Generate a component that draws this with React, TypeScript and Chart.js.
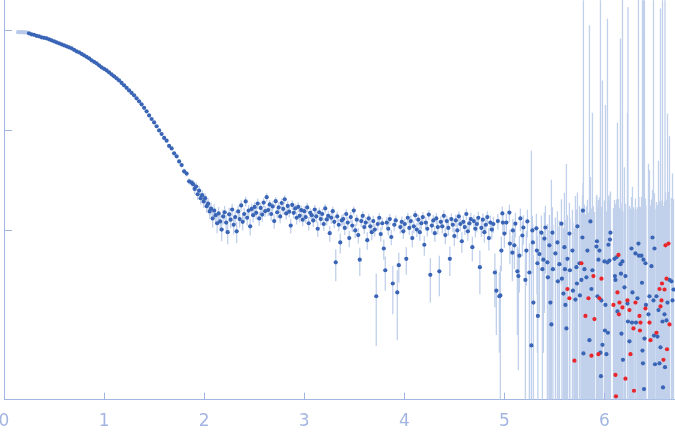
import { useEffect, useRef } from "react";
import { Chart, ChartConfiguration, registerables } from "chart.js";

Chart.register(...registerables);

const AXIS_COLOR = "#a3b6e2";
const POINT_COLOR = "#3a65b6";
const SKIP_COLOR = "#b9c9ea";
const NEG_COLOR = "#e8262c";
const ERR_COLOR = "rgba(186, 204, 233, 0.9)";

const Y_MIN = 0.204;
const Y_MAX = 2009;
const X_MAX = 6.705;
const X_TICKS = [0, 1, 2, 3, 4, 5, 6];
const Y_TICKS = [10, 100, 1000];

// first points, excluded from the fit (pale)
const skipQ = [0.14, 0.155, 0.17, 0.185, 0.2, 0.215, 0.23];
const skipI = [958, 962, 955, 960, 953, 957, 950];
const skipErr = [5, 5, 5, 5, 5, 5, 5];

// smooth decay
const lowQ = [
  0.25, 0.275, 0.3, 0.325, 0.35, 0.375, 0.4, 0.425, 0.45, 0.475, 0.5, 0.525, 0.55, 0.575, 0.6, 0.625,
  0.65, 0.675, 0.7, 0.725, 0.75, 0.775, 0.8, 0.825, 0.85, 0.875, 0.9, 0.925, 0.95, 0.975, 1, 1.025,
  1.05, 1.075, 1.1, 1.125, 1.15, 1.175, 1.2, 1.225, 1.25, 1.275, 1.3, 1.325, 1.35, 1.375, 1.4, 1.425,
  1.45, 1.475, 1.5, 1.525, 1.55, 1.575, 1.6, 1.625, 1.65, 1.675, 1.7, 1.725, 1.75, 1.775, 1.8, 1.825,
  1.85, 1.875
];
const lowI = [
  933, 912, 902, 881, 871, 851, 841, 832, 813, 794, 776, 759, 741, 724, 708, 692,
  676, 661, 638, 617, 603, 582, 562, 543, 525, 501, 484, 468, 447, 427, 412, 398,
  380, 363, 347, 331, 316, 298, 282, 266, 251, 237, 224, 209, 195, 182, 168, 155,
  141, 130, 120, 110, 100, 92, 84, 79, 70, 66, 59, 55, 49, 45, 39, 37,
  31, 30
];
const lowErr = [
  4.5, 4.4, 4.3, 4.2, 4.1, 4.0, 4.0, 3.9, 3.8, 3.8, 3.7, 3.6, 3.6, 3.5, 3.5, 3.4,
  3.4, 3.3, 3.3, 3.2, 3.2, 3.1, 3.1, 3.0, 3.0, 3.0, 2.9, 2.9, 2.9, 2.8, 2.8, 2.8,
  2.7, 2.7, 2.7, 2.7, 2.6, 2.6, 2.6, 2.6, 2.6, 2.5, 2.5, 2.5, 2.5, 2.5, 2.4, 2.4,
  2.4, 2.4, 2.4, 2.4, 2.3, 2.3, 2.3, 2.3, 2.3, 2.3, 2.3, 2.3, 2.3, 2.3, 2.3, 2.3,
  2.3, 2.3
];

// plateau
const midQ = [
  1.89, 1.905, 1.92, 1.935, 1.95, 1.965, 1.98, 1.995, 2.01, 2.025,
  2.04, 2.055, 2.07, 2.085, 2.1, 2.115, 2.13, 2.145, 2.16, 2.175,
  2.19, 2.205, 2.22, 2.235, 2.25, 2.265, 2.28, 2.295, 2.31, 2.325,
  2.34, 2.355, 2.37, 2.385, 2.4, 2.415, 2.43, 2.445, 2.46, 2.475,
  2.49, 2.505, 2.52, 2.535, 2.55, 2.565, 2.58, 2.595, 2.61, 2.625,
  2.64, 2.655, 2.67, 2.685, 2.7, 2.715, 2.73, 2.745, 2.76, 2.775,
  2.79, 2.805, 2.82, 2.835, 2.85, 2.865, 2.88, 2.895, 2.91, 2.925,
  2.94, 2.955, 2.97, 2.985, 3, 3.015, 3.03, 3.045, 3.06, 3.075,
  3.09, 3.105, 3.12, 3.135, 3.15, 3.165, 3.18, 3.195, 3.21, 3.225,
  3.24, 3.255, 3.27, 3.285, 3.3, 3.315, 3.33, 3.345, 3.36, 3.375,
  3.39, 3.405, 3.42, 3.435, 3.45, 3.465, 3.48, 3.495, 3.51, 3.525,
  3.54, 3.555, 3.57, 3.585, 3.6, 3.615, 3.63, 3.645, 3.66, 3.675,
  3.69, 3.705, 3.72, 3.735, 3.75, 3.765, 3.78, 3.795, 3.81, 3.825,
  3.84, 3.855, 3.87, 3.885, 3.9, 3.915, 3.93, 3.945, 3.96, 3.975,
  3.99, 4.005, 4.02, 4.035, 4.05, 4.065, 4.08, 4.095, 4.11, 4.125,
  4.14, 4.155, 4.17, 4.185, 4.2, 4.215, 4.23, 4.245, 4.26, 4.275,
  4.29, 4.305, 4.32, 4.335, 4.35, 4.365, 4.38, 4.395, 4.41, 4.425,
  4.44, 4.455, 4.47, 4.485, 4.5, 4.515, 4.53, 4.545, 4.56, 4.575,
  4.59, 4.605, 4.62, 4.635, 4.65, 4.665, 4.68, 4.695, 4.71, 4.725,
  4.74, 4.755, 4.77, 4.785, 4.8, 4.815, 4.83, 4.845, 4.86, 4.875,
  4.89, 4.905, 4.92, 4.935, 4.95
];
const midI = [
  29, 26, 27.5, 23, 25, 21, 22.5, 19.5, 21, 17.5,
  18.5, 15.5, 16.5, 13.2, 15.8, 14.2, 11.8, 14.8, 12.3, 10.2,
  13.8, 15.2, 12.0, 9.6, 14.5, 12.8, 16.2, 11.4, 13.6, 9.8,
  15.5, 13.0, 17.8, 12.2, 14.6, 19.5, 13.4, 15.8, 11.0, 16.4,
  14.2, 17.2, 15.0, 18.6, 13.2, 16.8, 14.4, 19.0, 15.6, 21.5,
  16.0, 18.2, 14.6, 17.4, 12.4, 19.6, 15.2, 17.0, 13.8, 18.8,
  16.4, 20.5, 14.8, 17.6, 15.4, 11.2, 18.0, 15.0, 16.6, 13.4,
  17.2, 14.0, 16.0, 12.8, 15.6, 13.6, 17.0, 11.8, 15.0, 14.2,
  12.6, 16.2, 13.8, 10.4, 15.2, 13.0, 14.6, 11.6, 16.6, 12.9,
  14.0, 9.4, 13.4, 15.6, 12.2, 4.8, 13.8, 11.4, 7.6, 12.6,
  13.0, 10.6, 14.6, 12.0, 8.4, 13.6, 11.2, 15.8, 10.0, 12.8,
  9.0, 5.1, 12.4, 14.0, 10.8, 12.0, 8.0, 13.2, 11.0, 9.6,
  12.4, 10.2, 2.2, 11.6, 13.4, 9.2, 11.8, 6.6, 4.0, 12.0,
  10.4, 13.0, 8.6, 2.95, 11.4, 12.6, 2.4, 4.5, 10.8, 12.2,
  9.8, 11.6, 5.2, 13.4, 10.6, 12.4, 8.4, 11.0, 14.2, 10.2,
  12.8, 9.6, 11.8, 13.6, 7.2, 12.0, 10.4, 14.4, 3.6, 11.2,
  12.6, 9.4, 13.2, 10.8, 3.9, 12.2, 11.0, 14.0, 9.0, 12.4,
  10.6, 5.2, 13.0, 11.4, 8.8, 12.6, 10.0, 13.8, 11.6, 7.8,
  12.2, 10.8, 14.6, 9.8, 11.8, 13.0, 6.8, 12.4, 10.4, 11.6,
  13.4, 4.3, 10.6, 12.8, 9.6, 11.4, 13.6, 8.4, 12.0, 10.2,
  11.6, 3.8, 2.5, 12.4, 2.2
];
const midErr = [
  3.0, 2.9, 2.9, 2.8, 2.8, 2.7, 2.7, 2.7, 2.6, 2.6,
  2.6, 2.5, 2.5, 2.5, 2.5, 2.4, 2.4, 2.4, 2.4, 2.4,
  2.3, 2.4, 2.3, 2.3, 2.4, 2.3, 2.3, 2.3, 2.2, 2.3,
  2.2, 2.3, 2.2, 2.2, 2.3, 2.2, 2.2, 2.2, 2.1, 2.2,
  2.2, 2.1, 2.1, 2.2, 2.1, 2.1, 2.1, 2.1, 2.0, 2.1,
  2.1, 2.0, 2.1, 2.0, 2.0, 2.0, 2.0, 2.1, 2.0, 2.0,
  2.0, 2.0, 1.9, 2.0, 1.9, 1.9, 2.0, 1.9, 1.9, 1.9,
  1.9, 1.9, 1.9, 1.8, 1.9, 1.8, 1.9, 1.8, 1.8, 1.8,
  1.8, 1.8, 1.8, 1.8, 1.8, 1.7, 1.8, 1.7, 1.8, 1.7,
  1.7, 1.7, 1.7, 1.7, 1.7, 1.7, 1.7, 1.6, 1.7, 1.7,
  1.7, 1.6, 1.7, 1.6, 1.6, 1.7, 1.6, 1.6, 1.6, 1.6,
  1.6, 1.6, 1.6, 1.6, 1.6, 1.6, 1.6, 1.5, 1.6, 1.6,
  1.6, 1.5, 1.5, 1.6, 1.5, 1.5, 1.6, 1.5, 1.5, 1.6,
  1.5, 1.6, 1.5, 1.5, 1.6, 1.5, 1.6, 1.5, 1.5, 1.6,
  1.6, 1.6, 1.6, 1.6, 1.6, 1.6, 1.6, 1.6, 1.6, 1.6,
  1.6, 1.7, 1.6, 1.7, 1.6, 1.7, 1.7, 1.6, 1.7, 1.7,
  1.7, 1.7, 1.7, 1.7, 1.7, 1.7, 1.7, 1.8, 1.7, 1.7,
  1.8, 1.7, 1.8, 1.8, 1.8, 1.8, 1.8, 1.8, 1.8, 1.8,
  1.9, 1.8, 1.9, 1.9, 1.9, 1.9, 1.9, 1.9, 1.9, 2.0,
  2.0, 2.0, 2.0, 2.0, 2.0, 2.1, 2.0, 2.1, 2.1, 2.1,
  2.1, 2.1, 1.6, 2.2, 1.6
];

// noisy tail
const highQ = [
  4.96, 4.97, 4.98, 4.985, 5.0, 5.02, 5.05, 5.055, 5.08, 5.085,
  5.1, 5.11, 5.13, 5.14, 5.15, 5.16, 5.18, 5.19, 5.21, 5.22,
  5.23, 5.25, 5.27, 5.28, 5.285, 5.29, 5.32, 5.325, 5.33, 5.335,
  5.35, 5.37, 5.38, 5.39, 5.4, 5.41, 5.43, 5.435, 5.45, 5.46,
  5.47, 5.48, 5.485, 5.51, 5.53, 5.535, 5.55, 5.57, 5.575, 5.59,
  5.6, 5.605, 5.61, 5.62, 5.63, 5.65, 5.655, 5.68, 5.685, 5.71,
  5.72, 5.725, 5.73, 5.75, 5.755, 5.77, 5.78, 5.785, 5.79, 5.8,
  5.82, 5.83, 5.85, 5.86, 5.87, 5.88, 5.92, 5.925, 5.93, 5.94,
  5.95, 5.96, 5.965, 5.97, 5.98, 6.0, 6.005, 6.01, 6.02, 6.03,
  6.035, 6.04, 6.05, 6.055, 6.06, 6.1, 6.105, 6.11, 6.12, 6.13,
  6.16, 6.165, 6.17, 6.18, 6.185, 6.2, 6.21, 6.23, 6.235, 6.25,
  6.27, 6.275, 6.28, 6.31, 6.315, 6.33, 6.34, 6.345, 6.37, 6.375,
  6.38, 6.385, 6.39, 6.395, 6.4, 6.41, 6.415, 6.44, 6.45, 6.47,
  6.48, 6.49, 6.495, 6.5, 6.505, 6.52, 6.53, 6.54, 6.55, 6.56,
  6.58, 6.585, 6.6, 6.605, 6.62, 6.63, 6.65, 6.67, 6.68, 6.69
];
const highI = [
  2.24, 6.3, 14.8, 12.0, 9.3, 12.0, 15.1, 7.4, 6.0, 10.0,
  7.1, 11.7, 3.9, 3.5, 5.6, 13.2, 8.9, 10.7, 3.2, 6.3,
  12.3, 3.8, 0.71, 10.0, 7.6, 1.9, 10.5, 6.3, 4.7, 1.4,
  5.8, 9.5, 4.1, 5.1, 8.3, 10.7, 4.8, 3.4, 7.1, 1.9,
  1.15, 9.5, 4.1, 5.9, 7.6, 3.1, 4.6, 11.7, 3.3, 2.34,
  6.8, 4.1, 1.8, 1.05, 5.2, 9.3, 4.0, 6.3, 2.5, 2.04,
  4.3, 2.95, 11.0, 4.7, 2.24, 3.2, 8.5, 15.8, 0.59, 4.1,
  3.4, 6.3, 0.8, 12.3, 2.6, 4.0, 6.9, 7.8, 2.2, 5.1,
  6.3, 0.6, 0.35, 2.0, 0.72, 4.9, 1.0, 1.8, 0.58, 4.8,
  0.95, 7.2, 5.0, 8.1, 9.5, 5.2, 3.5, 3.2, 5.4, 1.55,
  4.6, 3.7, 0.93, 4.9, 0.51, 2.7, 3.5, 1.86, 1.23, 0.78,
  6.6, 1.2, 2.4, 5.9, 1.2, 2.1, 7.4, 5.6, 5.6, 3.0,
  0.63, 0.47, 5.1, 0.26, 0.83, 4.7, 1.8, 1.45, 2.2, 4.4,
  8.5, 2.0, 0.89, 6.6, 0.46, 2.2, 0.87, 1.6, 0.47, 0.68,
  1.23, 0.27, 1.45, 0.43, 1.26, 1.9, 3.2, 3.1, 2.0, 2.57
];
const highErr = [
  2.2, 2.4, 2.6, 2.5, 2.6, 2.8, 3.0, 2.8, 2.9, 3.0,
  3.0, 3.2, 3.0, 3.1, 3.2, 3.4, 3.4, 3.5, 3.3, 3.5,
  3.8, 3.6, 62, 4.0, 3.9, 3.8, 4.2, 4.0, 4.1, 4.0,
  4.3, 4.6, 4.4, 4.5, 6.8, 7.0, 6.8, 6.7, 7.2, 7.0,
  31, 7.6, 7.3, 7.6, 8.0, 7.7, 8.0, 8.8, 8.2, 8.2,
  17, 8.6, 8.5, 45, 9.0, 9.6, 9.2, 9.8, 9.5, 20,
  12, 12, 13, 13, 13, 13, 14, 14, 2000, 14,
  14, 14, 1120, 22, 14, 146, 15, 15, 15, 15,
  15, 2000, 15, 15, 315, 15, 15, 178, 15, 1300,
  15, 15, 15, 15, 15, 15, 15, 15, 15, 118,
  825, 15, 15, 2000, 15, 40, 15, 148, 1700, 15,
  15, 15, 25, 15, 15, 15, 2000, 16, 16, 16,
  2000, 2000, 16, 2000, 2000, 16, 16, 45, 38, 16,
  17, 2000, 16, 17, 16, 17, 17, 48, 17, 1650,
  2000, 17, 17, 2000, 17, 146, 84, 18, 35, 18
];

// negative intensities, plotted by magnitude
const negQ = [
  5.63, 5.65, 5.7, 5.77, 5.81, 5.84, 5.87, 5.89, 5.9, 5.94,
  5.95, 5.97, 6.09, 6.11, 6.115, 6.13, 6.14, 6.145, 6.15, 6.18,
  6.21, 6.23, 6.25, 6.26, 6.29, 6.295, 6.31, 6.35, 6.355, 6.36,
  6.41, 6.45, 6.46, 6.52, 6.55, 6.56, 6.57, 6.575, 6.59, 6.6,
  6.61, 6.62, 6.625, 6.64, 6.65
];
const negI = [
  2.6, 2.1, 0.5, 4.7, 1.4, 2.1, 0.56, 3.5, 1.3, 0.58,
  2.1, 3.3, 1.8, 0.36, 0.22, 2.4, 5.7, 1.45, 1.9, 1.7,
  0.33, 2.0, 1.6, 0.58, 1.05, 0.25, 1.9, 1.4, 1.0, 1.2,
  1.66, 1.2, 0.8, 0.95, 2.6, 1.74, 2.0, 2.95, 0.51, 2.57,
  7.1, 3.3, 0.65, 7.4, 1.15
];
const negErr = [
  9, 9, 10, 12, 13, 13, 14, 14, 14, 14,
  14, 14, 15, 15, 15, 15, 15, 15, 15, 15,
  15, 16, 16, 16, 16, 16, 16, 16, 16, 16,
  16, 17, 17, 17, 17, 17, 17, 17, 17, 17,
  17, 17, 17, 17, 17
];

type Pt = { x: number; y: number | null };

function toPoints(qs: number[], vs: number[]): Pt[] {
  return qs.map((q, i) => ({ x: q, y: vs[i] }));
}

function errorBars(qs: number[], vs: number[], es: number[]): Pt[] {
  const out: Pt[] = [];
  qs.forEach((q, i) => {
    out.push({ x: q, y: Math.max(vs[i] - es[i], Y_MIN / 10) });
    out.push({ x: q, y: Math.min(vs[i] + es[i], Y_MAX * 10) });
    out.push({ x: q, y: null });
  });
  return out;
}

// ticks pointing into the plot area
const innerTicks = {
  id: "innerTicks",
  afterDraw(chart: Chart) {
    const { ctx, chartArea, scales } = chart;
    ctx.save();
    ctx.strokeStyle = AXIS_COLOR;
    ctx.lineWidth = 1;
    ctx.beginPath();
    for (const t of scales.x.ticks) {
      const px = Math.round(scales.x.getPixelForValue(t.value)) + 0.5;
      ctx.moveTo(px, chartArea.bottom);
      ctx.lineTo(px, chartArea.bottom - 7);
    }
    for (const t of scales.y.ticks) {
      const py = Math.round(scales.y.getPixelForValue(t.value)) + 0.5;
      ctx.moveTo(chartArea.left, py);
      ctx.lineTo(chartArea.left + 8, py);
    }
    ctx.stroke();
    ctx.restore();
  }
};

// the canvas is larger than the window; fixed paddings put the plot area
// at the same place as in the original figure
const PAD = 20;

function ScatteringChart() {
  const canvasRef = useRef<HTMLCanvasElement | null>(null);

  useEffect(() => {
    const canvas = canvasRef.current;
    if (!canvas) {
      return;
    }

    const pointStyle = { showLine: false, pointRadius: 2.1, pointBorderWidth: 0 };

    const config: ChartConfiguration<"scatter"> = {
      type: "scatter",
      data: {
        datasets: [
          {
            ...pointStyle,
            data: toPoints(negQ, negI),
            pointBackgroundColor: NEG_COLOR,
            order: 1
          },
          {
            ...pointStyle,
            data: [...toPoints(lowQ, lowI), ...toPoints(midQ, midI), ...toPoints(highQ, highI)],
            pointBackgroundColor: POINT_COLOR,
            order: 2
          },
          {
            ...pointStyle,
            data: toPoints(skipQ, skipI),
            pointBackgroundColor: SKIP_COLOR,
            order: 3
          },
          {
            data: [
              ...errorBars(skipQ, skipI, skipErr),
              ...errorBars(lowQ, lowI, lowErr),
              ...errorBars(midQ, midI, midErr),
              ...errorBars(highQ, highI, highErr),
              ...errorBars(negQ, negI, negErr)
            ] as any,
            showLine: true,
            spanGaps: false,
            borderColor: ERR_COLOR,
            borderWidth: 1.3,
            pointRadius: 0,
            order: 4
          }
        ]
      },
      options: {
        animation: false,
        responsive: true,
        maintainAspectRatio: false,
        events: [],
        layout: {
          padding: PAD
        },
        plugins: {
          legend: { display: false },
          tooltip: { enabled: false }
        },
        scales: {
          x: {
            type: "linear",
            min: 0,
            max: X_MAX,
            afterBuildTicks: (scale) => {
              scale.ticks = X_TICKS.map((v) => ({ value: v }));
            },
            grid: { display: false, drawTicks: true, tickLength: 12 },
            border: { display: true, color: AXIS_COLOR, width: 1 },
            ticks: {
              color: AXIS_COLOR,
              font: { family: "DejaVu Sans", size: 17 },
              padding: 0,
              maxRotation: 0,
              autoSkip: false
            }
          },
          y: {
            type: "logarithmic",
            min: Y_MIN,
            max: Y_MAX,
            afterBuildTicks: (scale) => {
              scale.ticks = Y_TICKS.map((v) => ({ value: v }));
            },
            grid: { display: false, drawTicks: false },
            border: { display: true, color: AXIS_COLOR, width: 1 },
            ticks: { display: false }
          }
        }
      },
      plugins: [innerTicks]
    };

    const chart = new Chart(canvas, config);

    return () => {
      chart.destroy();
    };
  }, []);

  return (
    <div
      style={{
        position: "absolute",
        left: 0,
        top: 0,
        width: 675,
        height: 437,
        overflow: "hidden",
        background: "#fff"
      }}
    >
      <div style={{ position: "absolute", left: -16, top: -PAD, width: 711, height: 472 }}>
        <canvas ref={canvasRef} />
      </div>
    </div>
  );
}

export default function App() {
  return <ScatteringChart />;
}
